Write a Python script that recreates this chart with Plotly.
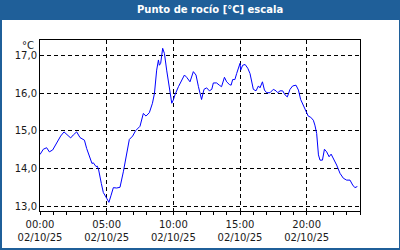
import plotly.graph_objects as go

times = ["00:00","00:15","00:30","00:42","00:57","01:15","01:33","01:48","02:03","02:18",
         "02:30","02:45","03:00","03:20","03:30","03:45","03:54","04:00","04:12","04:18",
         "04:24","04:36","04:45","05:00","05:10","05:20","05:30","05:45","06:00","06:15",
         "06:30","06:42","06:57","07:10","07:30","07:45","07:57","08:12","08:26","08:35",
         "08:45","08:53","08:57","09:03","09:12","09:20","09:30","09:42","09:53","10:00",
         "10:07","10:23","10:37","10:50","11:00","11:15","11:30","11:42","11:53","12:00",
         "12:07","12:18","12:30","12:42","12:53","13:00","13:15","13:27","13:37","13:50",
         "14:00","14:12","14:20","14:27","14:37","14:45","14:53","15:00","15:03","15:12",
         "15:23","15:35","15:45","15:53","16:00","16:12","16:23","16:30","16:41","16:50",
         "17:00","17:15","17:30","17:42","17:50","18:00","18:12","18:23","18:33","18:45",
         "18:57","19:12","19:23","19:33","19:45","19:57","20:07","20:18","20:30","20:37",
         "20:45","20:53","21:00","21:11","21:20","21:30","21:41","21:50","22:00","22:15",
         "22:30","22:45","23:00","23:15","23:27","23:37","23:48"]
dew_point = [14.37,14.51,14.55,14.44,14.49,14.67,14.86,14.97,14.89,14.81,
             14.89,14.97,14.82,14.75,14.53,14.27,14.13,14.15,14.05,14.06,
             13.96,13.60,13.36,13.21,13.10,13.29,13.49,13.48,13.50,13.91,
             14.40,14.77,14.86,15.00,15.12,15.46,15.39,15.48,15.73,15.99,
             16.61,16.88,16.74,16.79,17.19,17.05,16.61,16.08,15.73,15.82,
             15.95,16.17,16.33,16.48,16.42,16.30,16.57,16.48,16.17,15.95,
             15.83,16.10,16.14,16.06,16.10,16.27,16.27,16.21,16.17,16.42,
             16.30,16.23,16.21,16.36,16.36,16.52,16.66,16.79,16.61,16.74,
             16.76,16.66,16.52,16.30,16.10,16.06,16.19,16.14,16.30,16.08,
             16.01,16.01,16.10,16.06,16.01,16.06,16.06,15.95,15.90,16.10,
             16.19,16.21,16.08,15.83,15.68,15.50,15.39,15.36,15.28,15.15,
             14.93,14.36,14.22,14.22,14.51,14.44,14.31,14.38,14.27,14.09,
             13.87,13.74,13.69,13.69,13.56,13.49,13.52]
date = "2025-10-02"
x_tick_hours = ["00:00", "05:00", "10:00", "15:00", "20:00"]
x_tick_date = "02/10/25"
y_ticks = [13, 14, 15, 16, 17]
title = "Punto de rocío [°C] escala"
unit = "°C"

x_vals = [f"{date} {t}" for t in times]
x_range = [f"{date} 00:00", "2025-10-03 00:00"]
x_tickvals = [f"{date} {h}" for h in x_tick_hours]

W, H = 400, 250
L, R, T, B = 40, 40, 40, 39
PW, PH = W - L - R, H - T - B
def px(x): return (x - L) / PW
def py(y): return (H - B - y) / PH

BLUE = "#1f5f99"
FONT = "DejaVu Sans"
TXT = "#1a1a1a"

fig = go.Figure()
fig.add_trace(go.Scatter(x=x_vals, y=dew_point, mode="lines",
                         line=dict(color="#0000ff", width=1), hoverinfo="skip"))
# invisible trace to activate the second (date label) axis
fig.add_trace(go.Scatter(x=x_range, y=[None, None], xaxis="x2", mode="lines",
                         hoverinfo="skip", showlegend=False))

fig.update_layout(
    width=W, height=H, margin=dict(l=L, r=R, t=T, b=B),
    paper_bgcolor="white", plot_bgcolor="white", showlegend=False,
    separators=",.",
    font=dict(family=FONT, size=10, color=TXT),
)
fig.update_layout(
    xaxis=dict(
        type="date", range=x_range, automargin=False,
        tickvals=x_tickvals, ticktext=x_tick_hours, ticklabelstandoff=1,
        showgrid=True, gridcolor="black", gridwidth=1, griddash="4px,3px",
        showline=True, linecolor="black", linewidth=1, mirror=True,
        ticks="outside", ticklen=3, tickcolor="black",
        minor=dict(dtick=3600000, ticks="outside", ticklen=3, tickcolor="black", showgrid=False),
        zeroline=False, tickfont=dict(size=10, color=TXT),
    ),
    xaxis2=dict(
        type="date", range=x_range, overlaying="x", side="bottom", anchor="y",
        automargin=False, tickvals=x_tickvals, ticktext=[x_tick_date] * len(x_tickvals),
        ticklabelstandoff=19, showgrid=False, showline=False, ticks="", zeroline=False,
        tickfont=dict(size=10, color=TXT),
    ),
    yaxis=dict(
        range=[12.87, 17.41], tickvals=y_ticks, tickformat=".1f", automargin=False,
        showgrid=True, gridcolor="black", gridwidth=1, griddash="4px,3px",
        showline=True, linecolor="black", linewidth=1, mirror=True,
        ticks="", zeroline=False, tickfont=dict(size=10, color=TXT),
    ),
)

shapes = [
    dict(type="rect", xref="paper", yref="paper", x0=px(0), x1=px(400), y0=py(20), y1=py(0),
         fillcolor=BLUE, line=dict(width=0), layer="above"),
    dict(type="rect", xref="paper", yref="paper", x0=px(0), x1=px(2), y0=py(250), y1=py(0),
         fillcolor=BLUE, line=dict(width=0), layer="above"),
    dict(type="rect", xref="paper", yref="paper", x0=px(399), x1=px(400), y0=py(250), y1=py(0),
         fillcolor=BLUE, line=dict(width=0), layer="above"),
    dict(type="rect", xref="paper", yref="paper", x0=px(0), x1=px(400), y0=py(250), y1=py(248),
         fillcolor=BLUE, line=dict(width=0), layer="above"),
]
fig.update_layout(shapes=shapes)
fig.add_annotation(text=f"<b>{title}</b>", xref="paper", yref="paper", x=px(210), y=py(10),
                   showarrow=False, font=dict(family=FONT, size=10, color="white"),
                   xanchor="center", yanchor="middle")
fig.add_annotation(text=unit, xref="paper", yref="paper", x=px(36), y=py(45),
                   showarrow=False, font=dict(family=FONT, size=10, color=TXT),
                   xanchor="right", yanchor="middle")

fig.write_html("out.html")
